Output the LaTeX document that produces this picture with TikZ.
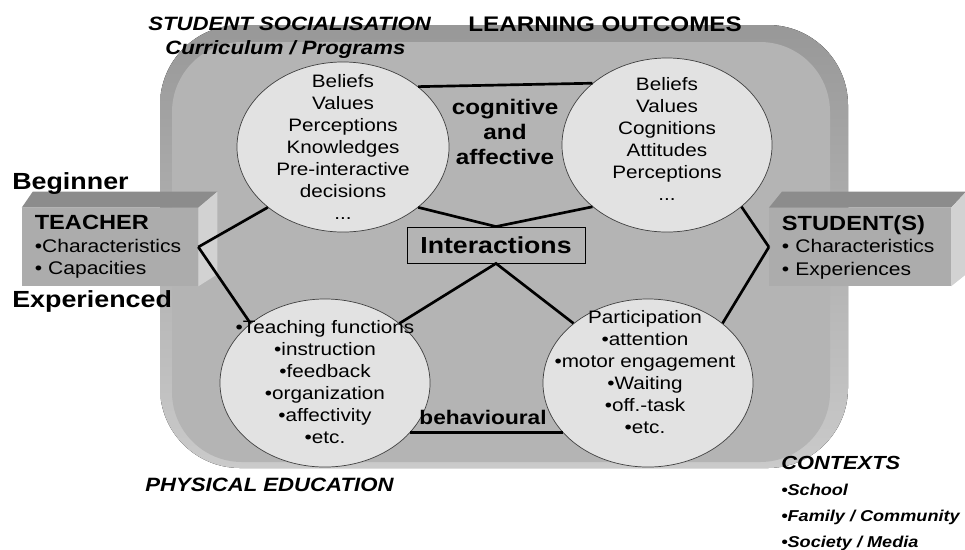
\documentclass[tikz,border=0pt]{standalone}
\usepackage{fontspec}
\setmainfont[FakeStretch=1.15]{Liberation Sans}
\usetikzlibrary{shapes.geometric,calc}

\definecolor{rimdark}{RGB}{152,152,152}
\definecolor{rimlight}{RGB}{202,202,202}
\definecolor{panelgray}{RGB}{180,180,180}
\definecolor{bubblegray}{RGB}{226,226,226}
\definecolor{frontgray}{RGB}{172,172,172}
\definecolor{topgray}{RGB}{140,140,140}
\definecolor{sidegray}{RGB}{210,210,210}

\begin{document}
\begin{tikzpicture}[x=0.025cm, y=-0.025cm, every node/.style={inner sep=0pt, font=\fontsize{12.8}{15.6}\selectfont}, align=center,
  bubble/.style={ellipse, draw=black!75, line width=0.5pt, fill=bubblegray, minimum width=5.25cm, minimum height=4.2cm},
  cube/.style={fill=frontgray, minimum height=1.95cm, inner xsep=0.32cm, align=left, font=\fontsize{13}{16}\selectfont},
  link/.style={line width=1.9pt},
  heading/.style={font=\fontsize{13.7}{18}\selectfont\bfseries\itshape, anchor=west},
  level/.style={font=\fontsize{16.6}{18}\selectfont\bfseries, anchor=west},
  key/.style={font=\fontsize{15}{18}\selectfont\bfseries}]

\useasboundingbox (0,0) rectangle (965,549);

% Panel
\fill[top color=rimdark, middle color=rimlight, bottom color=rimlight, rounded corners=2cm] (160,25) rectangle (848,468);
\fill[panelgray, rounded corners=1.75cm] (172,42) rectangle (830,462);

% Headings
\node (soc) [heading] at (148,24) {STUDENT SOCIALISATION};
\node (curr) [heading] at (165,50) {Curriculum / Programs};
\node (lo) [key, anchor=west] at (468,24) {LEARNING OUTCOMES};
\node (pe) [heading] at (145,485) {PHYSICAL EDUCATION};
\node (ctx) [anchor=north west, align=left, font=\fontsize{11.2}{18.5}\selectfont\bfseries\itshape] at (781,456) {{\fontsize{13.5}{18.5}\selectfont CONTEXTS}\\•School\\•Family / Community\\•Society / Media};

% Bubbles
\node (pre) [bubble, minimum width=5.3cm, minimum height=4.25cm] at (343,147) {};
\node (out) [bubble, minimum height=4.35cm] at (667,145) {};
\node (fun) [bubble] at (325,383) {};
\node (part) [bubble] at (648,383) {};

\node (preTxt) at (pre) {Beliefs\\Values\\Perceptions\\Knowledges\\Pre-interactive\\decisions\\...};
\node (outTxt) at (667,139) {Beliefs\\Values\\Cognitions\\Attitudes\\Perceptions\\...};
\node (funTxt) at (325,382) {•Teaching functions\\•instruction\\•feedback\\•organization\\•affectivity\\•etc.};
\node (partTxt) at (645,372) {Participation\\•attention\\•motor engagement\\•Waiting\\•off.-task\\•etc.};

\node (cogn) [key] at (505,132) {cognitive\\and\\affective};
\node (behav) [key, font=\fontsize{14}{18}\selectfont\bfseries] at (483,417) {behavioural};
\node (inter) [draw, line width=0.6pt, minimum width=4.45cm, minimum height=0.9cm, font=\fontsize{16.5}{18}\selectfont\bfseries] at (496,245) {Interactions};

% Teacher and student blocks
\node (teacher) [cube, text width=3.76cm] at (110,247) {{\fontsize{14.6}{18}\selectfont\bfseries TEACHER}\\•Characteristics\\• Capacities};
\fill[topgray] (teacher.north west) -- ++(11,-16) -- ($(teacher.north east)+(19,-16)$) -- (teacher.north east) -- cycle;
\fill[sidegray] (teacher.north east) -- ++(19,-16) -- ($(teacher.south east)+(19,-12)$) -- (teacher.south east) -- cycle;

\node (student) [cube, text width=3.9cm] at (860,247) {{\fontsize{14.6}{18}\selectfont\bfseries STUDENT(S)}\\• Characteristics\\• Experiences};
\fill[topgray] (student.north west) -- ++(13,-16) -- ($(student.north east)+(15,-16)$) -- (student.north east) -- cycle;
\fill[sidegray] (student.north east) -- ++(15,-16) -- ($(student.south east)+(15,-12)$) -- (student.south east) -- cycle;

\node (beg) [level] at (12,184) {Beginner};
\node (exp) [level] at (12,301) {Experienced};

% Links
\draw[link] (teacher.east) -- (pre.south west);
\draw[link] (teacher.east) -- (fun.north west);
\draw[link] (student.west) -- (out.south east);
\draw[link] (student.west) -- (part.north east);
\draw[link] (pre.north east) -- (out.north west);
\draw[link] (pre.south east) -- (inter.north) -- (out.south west);
\draw[link] (fun.north east) -- (inter.south) -- (part.north west);
\draw[link] (fun.-30) -- (part.-150);

\end{tikzpicture}
\end{document}
